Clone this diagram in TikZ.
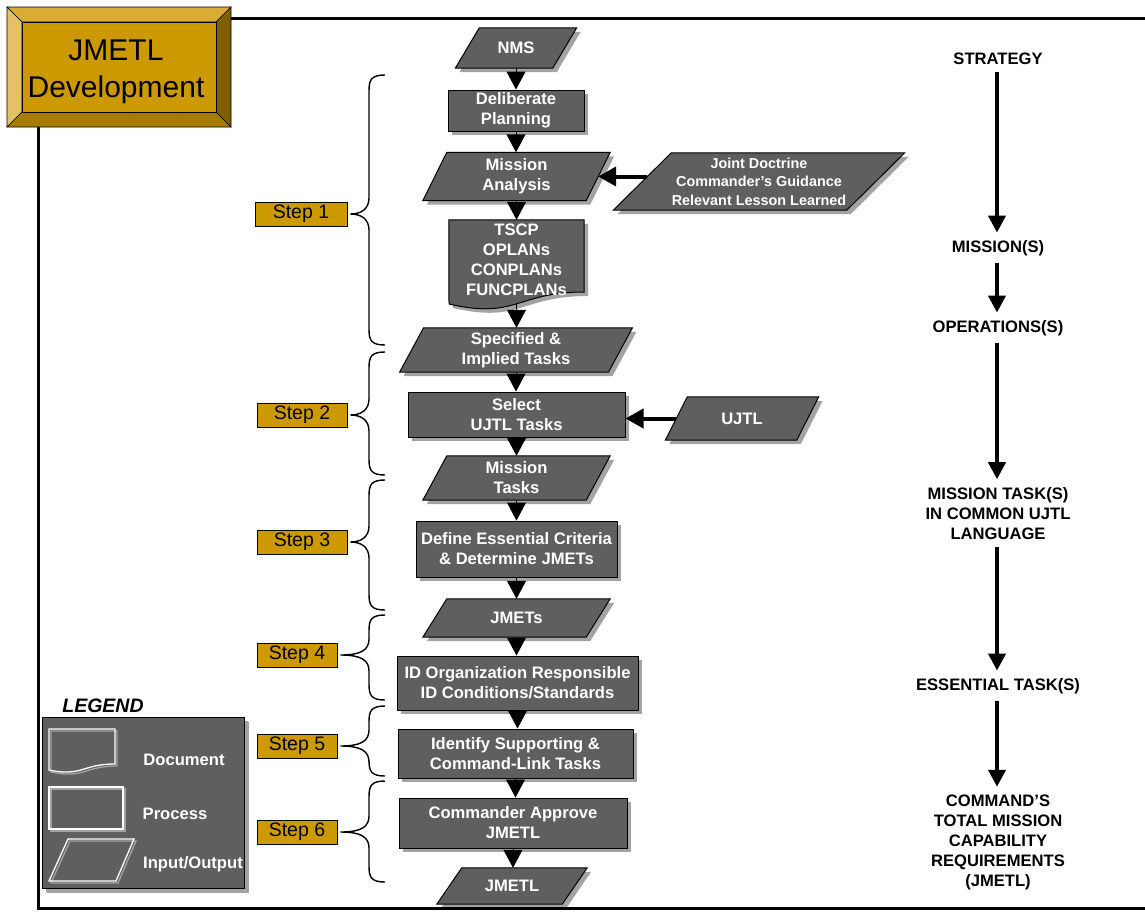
\documentclass[tikz,border=0pt]{standalone}
\usepackage{fontspec}
\setmainfont{Liberation Sans}
\usetikzlibrary{arrows.meta,shadows,backgrounds,calc}

\pgfdeclarelayer{paper}
\pgfsetlayers{paper,background,main}

\definecolor{boxgray}{HTML}{5F5F5F}
\definecolor{shadegray}{HTML}{A3A3A3}
\definecolor{goldface}{HTML}{CC9900}
\definecolor{goldtop}{HTML}{D9AD33}
\definecolor{goldleft}{HTML}{E3C266}
\definecolor{goldright}{HTML}{7F5F00}
\definecolor{goldbottom}{HTML}{A67C00}

\tikzset{
  labelfont/.style={font=\bfseries\fontsize{16.6}{20}\selectfont},
  boxshadow/.style={drop shadow={shadow xshift=4pt,shadow yshift=-4pt,fill=shadegray,opacity=1}},
  procbox/.style={draw=black,line width=1pt,fill=boxgray,text=white,labelfont,align=center,inner sep=0pt,boxshadow},
  iotext/.style={text=white,labelfont,align=center,inner sep=0pt},
  ioshape/.style={draw=black,line width=1pt,fill=boxgray,boxshadow},
  stepbox/.style={draw=black,line width=1pt,fill=goldface,text=black,font=\fontsize{19.5}{20}\selectfont,minimum height=24pt,inner sep=0pt},
  flowarrow/.style={-{Triangle[length=18pt,width=19pt]},line width=1pt},
  feedarrow/.style={-{Triangle[length=18pt,width=19pt]},line width=4pt},
  levelarrow/.style={-{Triangle[length=17pt,width=17pt]},line width=4pt,shorten <=7pt,shorten >=8pt},
  leveltext/.style={labelfont,text=black,align=center,inner sep=0pt},
  bracestyle/.style={line width=1.4pt},
  frameline/.style={line width=3pt},
  legendline/.style={draw=white,line width=1.3pt},
  legendshade/.style={draw=shadegray,line width=1.3pt,transform canvas={xshift=2pt,yshift=-2pt}}
}

% input/output box: [extra options], name, centre x, centre y, mid width, height, slant, text
\newcommand{\ionode}[8][]{%
  \node[iotext,minimum width=#5pt,minimum height=#6pt,#1] (#2) at (#3,#4) {#8};
  \begin{scope}[on background layer]
    \filldraw[ioshape] ($(#2.north west)+(#7/2,0)$) -- ($(#2.north east)+(#7/2,0)$)
      -- ($(#2.south east)-(#7/2,0)$) -- ($(#2.south west)-(#7/2,0)$) -- cycle;
  \end{scope}}

% curly brace from top y to bottom y, pointing at a step label
\newcommand{\stepbrace}[3]{%
  \draw[bracestyle] (385,#2) .. controls (371,#2) and (369,#2+5) .. (369,#2+16)
    -- ($(#1.east -| bx)+(0,-16)$)
    .. controls ($(#1.east -| bx)+(0,-5)$) and ($(#1.east -| bx)+(-8,0)$) .. ($(#1.east)+(3,0)$)
    .. controls ($(#1.east -| bx)+(-8,0)$) and ($(#1.east -| bx)+(0,5)$) .. ($(#1.east -| bx)+(0,16)$)
    -- (369,#3-16) .. controls (369,#3-5) and (371,#3) .. (385,#3);}

\begin{document}
\begin{tikzpicture}[x=1pt,y=-1pt]
\useasboundingbox (0,0) rectangle (1145,911);
\begin{pgfonlayer}{paper}
  \fill[white] (0,0) rectangle (1145,911);
\end{pgfonlayer}

% page frame
\draw[frameline] (231,18) -- (1145,18);
\draw[frameline] (38,127) -- (38,908) -- (1145,908);

% bevelled title plate
\filldraw[fill=goldtop,draw=black,line width=0.6pt] (7,7) -- (231,7) -- (216,22) -- (22,22) -- cycle;
\filldraw[fill=goldleft,draw=black,line width=0.6pt] (7,7) -- (22,22) -- (22,112) -- (7,127) -- cycle;
\filldraw[fill=goldright,draw=black,line width=0.6pt] (231,7) -- (231,127) -- (216,112) -- (216,22) -- cycle;
\filldraw[fill=goldbottom,draw=black,line width=0.6pt] (7,127) -- (231,127) -- (216,112) -- (22,112) -- cycle;
\filldraw[fill=goldface,draw=black,line width=0.6pt] (22,22) rectangle (216,112);
\node[font=\fontsize{30}{37}\selectfont,align=center,inner sep=0pt] (title) at (116,72) {JMETL\\Development};

% main flow
\ionode{nms}{516}{48}{97}{40}{24}{NMS}
\node[procbox,minimum width=136pt,minimum height=41pt] (plan) at (516,110.5) {Deliberate\\Planning};
\ionode{ana}{516.5}{176.5}{163}{48}{24}{Mission\\Analysis}
\node[iotext,minimum width=135pt,minimum height=80pt] (plans) at (516.5,260) {TSCP\\OPLANs\\CONPLANs\\FUNCPLANs};
\begin{scope}[on background layer]
  \filldraw[ioshape] (plans.north west) -- (plans.north east) -- (584,292)
    .. controls (516.5,292) and (516.5,319.6) .. (449,304) -- cycle;
\end{scope}
\ionode{spec}{516}{350}{208.5}{44}{24}{Specified \&\\Implied Tasks}
\node[procbox,minimum width=217pt,minimum height=45pt] (sel) at (516.5,414.5) {Select\\UJTL Tasks};
\ionode{mtask}{516.5}{478}{163}{44}{24}{Mission\\Tasks}
\node[procbox,minimum width=201pt,minimum height=56pt] (crit) at (516.5,549) {Define Essential Criteria\\\& Determine JMETs};
\ionode{jmets}{516.5}{618}{163}{38}{24}{JMETs}
\node[procbox,minimum width=241pt,minimum height=54pt] (org) at (517.5,683) {ID Organization Responsible\\ID Conditions/Standards};
\node[procbox,minimum width=235pt,minimum height=49pt] (supp) at (515.5,753.5) {Identify Supporting \&\\Command-Link Tasks};
\node[procbox,minimum width=228pt,minimum height=50pt] (appr) at (513,823) {Commander Approve\\JMETL};
\ionode{jmetl}{512}{886}{125}{36}{25}{JMETL}

% side inputs
\ionode[font=\bfseries\fontsize{14.4}{18.5}\selectfont]{jd}{759}{181.5}{233}{57}{58}{Joint Doctrine\\Commander's Guidance\\Relevant Lesson Learned}
\ionode{ujtl}{742}{418.5}{131}{43}{22}{UJTL}

% connectors of the main flow
\draw[flowarrow] (nms.south) -- (nms.south |- plan.north);
\draw[flowarrow] (plan.south) -- (plan.south |- ana.north);
\draw[flowarrow] (ana.south) -- (ana.south |- plans.north);
\draw[flowarrow] ([yshift=-4pt]plans.south) -- (plans.south |- spec.north);
\draw[flowarrow] (spec.south) -- (spec.south |- sel.north);
\draw[flowarrow] (sel.south) -- (sel.south |- mtask.north);
\draw[flowarrow] (mtask.south) -- (mtask.south |- crit.north);
\draw[flowarrow] (crit.south) -- (crit.south |- jmets.north);
\draw[flowarrow] (jmets.south) -- (jmets.south |- org.north);
\draw[flowarrow] (org.south) -- (org.south |- supp.north);
\draw[flowarrow] (supp.south) -- (supp.south |- appr.north);
\draw[flowarrow] (appr.south) -- (appr.south |- jmetl.north);
\draw[feedarrow] ($(jd.west |- ana.east)+(5,0)$) -- (ana.east);
\draw[feedarrow] (ujtl.west) -- (sel.east |- ujtl.west);

% steps and their braces
\coordinate (bx) at (369,0);
\node[stepbox,minimum width=92pt] (step1) at (301,214) {Step 1};
\node[stepbox,minimum width=90pt] (step2) at (302,415) {Step 2};
\node[stepbox,minimum width=90pt] (step3) at (302,542) {Step 3};
\node[stepbox,minimum width=80pt] (step4) at (297,655) {Step 4};
\node[stepbox,minimum width=80pt] (step5) at (297,746) {Step 5};
\node[stepbox,minimum width=80pt] (step6) at (297,832) {Step 6};
\stepbrace{step1}{75}{345}
\stepbrace{step2}{352}{475}
\stepbrace{step3}{480}{610}
\stepbrace{step4}{615}{700}
\stepbrace{step5}{706}{776}
\stepbrace{step6}{781}{882}

% levels of the hierarchy
\node[leveltext] (lv1) at (998,58.5) {STRATEGY};
\node[leveltext] (lv2) at (998,248.5) {MISSION(S)};
\node[leveltext] (lv3) at (998,328.5) {OPERATIONS(S)};
\node[leveltext] (lv4) at (998,513.5) {MISSION TASK(S)\\IN COMMON UJTL\\LANGUAGE};
\node[leveltext] (lv5) at (998,686.5) {ESSENTIAL TASK(S)};
\node[leveltext] (lv6) at (998,842.5) {COMMAND'S\\TOTAL MISSION\\CAPABILITY\\REQUIREMENTS\\(JMETL)};
\draw[levelarrow] (lv1.south -| 997,0) -- (lv2.north -| 997,0);
\draw[levelarrow] (lv2.south -| 997,0) -- (lv3.north -| 997,0);
\draw[levelarrow] (lv3.south -| 997,0) -- (lv4.north -| 997,0);
\draw[levelarrow] (lv4.south -| 997,0) -- (lv5.north -| 997,0);
\draw[levelarrow] (lv5.south -| 997,0) -- (lv6.north -| 997,0);

% legend
\node[font=\bfseries\itshape\fontsize{19.5}{20}\selectfont,inner sep=0pt] (legtitle) at (103,706) {LEGEND};
\node[procbox,minimum width=202pt,minimum height=171pt,drop shadow={shadow xshift=5pt,shadow yshift=-5pt,fill=shadegray,opacity=1}] (legend) at (143,802.5) {};
\draw[legendshade] (49,729) -- (115,729) -- (115,764) .. controls (82,764) and (82,777) .. (49,770) -- cycle;
\draw[legendline] (49,729) -- (115,729) -- (115,764) .. controls (82,764) and (82,777) .. (49,770) -- cycle;
\draw[legendshade] (49,787) rectangle (123,829);
\draw[legendline] (49,787) rectangle (123,829);
\draw[legendshade] (68,839) -- (134,839) -- (116,881) -- (49,881) -- cycle;
\draw[legendline] (68,839) -- (134,839) -- (116,881) -- (49,881) -- cycle;
\node[iotext] (legdoc) at (184,760) {Document};
\node[iotext] (legproc) at (175,814) {Process};
\node[iotext] (legio) at (193,864) {Input/Output};
\end{tikzpicture}
\end{document}
